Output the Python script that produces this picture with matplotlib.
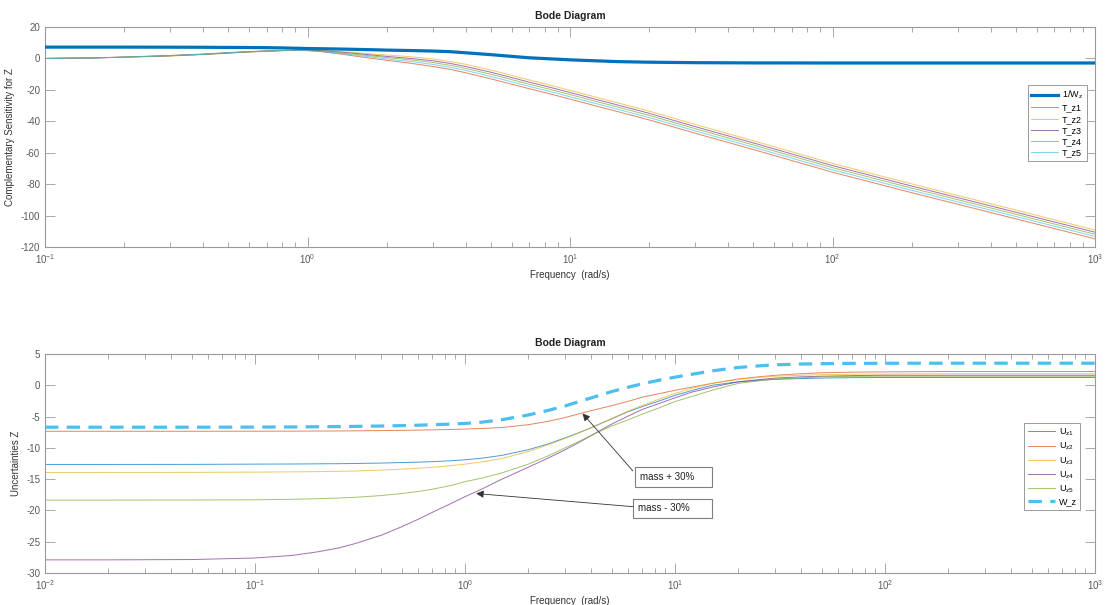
import matplotlib.pyplot as plt
from matplotlib.patches import Rectangle

plt.rcParams['font.family'] = ['Liberation Sans', 'DejaVu Sans']
plt.rcParams['mathtext.fontset'] = 'custom'
plt.rcParams['mathtext.rm'] = 'Liberation Sans'
plt.rcParams['mathtext.it'] = 'Liberation Sans:italic'
plt.rcParams['axes.unicode_minus'] = False

# Complementary sensitivity for Z (dB) vs frequency (rad/s)
w_top = [0.1, 0.15, 0.2, 0.3, 0.4, 0.5, 0.6, 0.7, 0.8, 0.9, 1.0,
         1.1, 1.2, 1.35, 1.5, 1.75, 2.0, 2.5, 3.0, 3.5, 4.0, 5.0, 6.0, 7.0, 8.5,
         10, 15, 20, 30, 50, 100, 200, 500, 1000]
inv_wz = [7.2, 7.2, 7.2, 7.15, 7.1, 7.0, 6.95, 6.85, 6.7, 6.5, 6.3,
          6.2, 6.1, 5.95, 5.8, 5.55, 5.3, 5.0, 4.7, 4.3, 3.6, 2.4, 1.3, 0.4, -0.3,
          -0.9, -2.0, -2.4, -2.7, -2.85, -2.9, -2.9, -2.9, -2.9]
t_z1 = [0.0, 0.3, 0.9, 1.9, 2.8, 3.7, 4.4, 4.8, 5.1, 5.15, 4.95,
        4.5, 3.7, 2.7, 1.6, 0.1, -1.2, -3.2, -5.1, -7.0, -9.1, -13.0, -16.4, -19.3, -22.8,
        -25.9, -33.6, -39.1, -47.6, -58.0, -72.4, -85.4, -102.1, -114.8]
t_z2 = [0.0, 0.3, 0.7, 1.5, 2.4, 3.3, 4.0, 4.5, 4.9, 5.1, 5.1,
        5.0, 4.9, 4.3, 3.8, 2.9, 2.2, 1.0, -0.3, -2.0, -3.7, -7.4, -10.8, -13.7, -17.2,
        -20.3, -28.0, -33.5, -42.0, -52.4, -66.8, -79.8, -96.5, -109.2]
t_z3 = [0.0, 0.3, 0.8, 1.7, 2.6, 3.5, 4.2, 4.65, 5.0, 5.15, 5.05,
        4.9, 4.6, 3.9, 3.3, 2.2, 1.3, -0.1, -1.5, -3.2, -5.1, -8.8, -12.2, -15.1, -18.6,
        -21.7, -29.4, -34.9, -43.4, -53.8, -68.2, -81.2, -97.9, -110.6]
t_z4 = [0.0, 0.3, 0.8, 1.7, 2.6, 3.5, 4.2, 4.65, 5.0, 5.15, 5.05,
        4.8, 4.3, 3.5, 2.7, 1.6, 0.6, -1.0, -2.6, -4.4, -6.3, -10.1, -13.5, -16.4, -19.9,
        -23.0, -30.7, -36.2, -44.7, -55.1, -69.5, -82.5, -99.2, -111.9]
t_z5 = [0.0, 0.3, 0.8, 1.8, 2.7, 3.6, 4.3, 4.7, 5.0, 5.15, 5.05,
        4.6, 4.0, 3.1, 2.2, 0.9, -0.3, -2.1, -3.8, -5.7, -7.6, -11.5, -14.9, -17.8, -21.3,
        -24.4, -32.1, -37.6, -46.1, -56.5, -70.9, -83.9, -100.6, -113.3]

# Uncertainties Z (dB) vs frequency (rad/s)
w_bot = [0.01, 0.02, 0.05, 0.1, 0.15, 0.2, 0.25, 0.3, 0.4, 0.5, 0.6, 0.7, 0.85,
         1.0, 1.2, 1.5, 2, 2.5, 3, 3.5, 4, 5, 6, 7, 8.5,
         10, 12, 15, 20, 25, 30, 40, 50, 70, 100, 200, 1000]
u_z1 = [-12.65, -12.65, -12.64, -12.6, -12.58, -12.55, -12.53, -12.5, -12.43, -12.35, -12.28, -12.2, -12.07,
        -11.9, -11.65, -11.2, -10.3, -9.35, -8.4, -7.55, -6.75, -5.35, -4.2, -3.4, -2.45,
        -1.6, -0.85, 0.0, 0.55, 0.8, 0.95, 1.07, 1.15, 1.22, 1.25, 1.25, 1.25]
u_z2 = [-7.35, -7.35, -7.35, -7.34, -7.33, -7.31, -7.3, -7.28, -7.24, -7.2, -7.16, -7.12, -7.06,
        -7.0, -6.9, -6.75, -6.3, -5.75, -5.15, -4.55, -4.05, -3.25, -2.55, -1.9, -1.3,
        -0.8, -0.3, 0.3, 1.0, 1.35, 1.6, 1.85, 2.0, 2.1, 2.15, 2.2, 2.2]
u_z3 = [-13.93, -13.93, -13.92, -13.88, -13.84, -13.8, -13.75, -13.7, -13.56, -13.4, -13.26, -13.1, -12.86,
        -12.6, -12.25, -11.7, -10.6, -9.5, -8.5, -7.6, -6.8, -5.3, -4.1, -3.2, -2.15,
        -1.3, -0.5, 0.3, 0.95, 1.25, 1.45, 1.6, 1.7, 1.77, 1.8, 1.85, 1.85]
u_z4 = [-27.9, -27.9, -27.85, -27.6, -27.2, -26.6, -26.0, -25.3, -23.95, -22.6, -21.4, -20.3, -18.95,
        -17.8, -16.6, -15.0, -13.1, -11.6, -10.3, -9.1, -8.0, -6.2, -4.9, -3.85, -2.85,
        -2.0, -1.1, -0.3, 0.55, 0.9, 1.15, 1.35, 1.45, 1.55, 1.6, 1.6, 1.6]
u_z5 = [-18.35, -18.35, -18.33, -18.3, -18.22, -18.12, -18.02, -17.9, -17.62, -17.3, -16.97, -16.6, -16.05,
        -15.4, -14.85, -14.0, -12.6, -11.25, -10.0, -8.95, -8.0, -6.5, -5.5, -4.6, -3.55,
        -2.6, -1.8, -0.8, 0.3, 0.7, 1.0, 1.2, 1.35, 1.42, 1.45, 1.45, 1.45]
w_z = [-6.7, -6.7, -6.7, -6.68, -6.66, -6.63, -6.6, -6.57, -6.51, -6.45, -6.38, -6.3, -6.21,
       -6.1, -5.9, -5.5, -4.75, -4.0, -3.3, -2.6, -2.0, -1.0, -0.3, 0.25, 0.85,
       1.3, 1.75, 2.3, 2.85, 3.1, 3.27, 3.4, 3.45, 3.5, 3.52, 3.53, 3.53]

# MATLAB default line colours
c_blue = '#0072BD'
c_orange = '#D95319'
c_yellow = '#EDB120'
c_purple = '#7E2F8E'
c_green = '#77AC30'
c_cyan = '#4DBEEE'

axis_gray = '#9a9a9a'
text_gray = '#5a5a5a'
thin = dict(lw=0.7, alpha=0.7)


def style_axes(ax, xlim, ylim, yticks, ylabel):
    ax.set_xscale('log')
    ax.set_xlim(*xlim)
    ax.set_ylim(*ylim)
    ax.set_yticks(yticks)
    ax.tick_params(which='both', direction='in', top=True, right=True,
                   colors=axis_gray, labelcolor=text_gray, labelsize=7, width=0.6)
    ax.tick_params(which='major', length=7)
    ax.tick_params(which='minor', length=3.6)
    for sp in ax.spines.values():
        sp.set_color(axis_gray)
        sp.set_linewidth(0.8)
    ax.set_title('Bode Diagram', fontsize=7.5, fontweight='bold', color='#222222', pad=6)
    ax.set_xlabel('Frequency  (rad/s)', fontsize=7, color='#333333', labelpad=3)
    ax.set_ylabel(ylabel, fontsize=7, color='#333333', labelpad=4)


fig = plt.figure(figsize=(11.05, 6.05), dpi=100)
ax1 = fig.add_axes([45 / 1105, 1 - 247 / 605, 1050 / 1105, 220 / 605])
ax2 = fig.add_axes([45 / 1105, 1 - 573 / 605, 1050 / 1105, 219 / 605])

# top: weight and complementary sensitivities
ax1.plot(w_top, inv_wz, color=c_blue, lw=2.3, label='1/W$_\\mathregular{z}$', zorder=3)
ax1.plot(w_top, t_z1, color=c_orange, label='T_z1', **thin)
ax1.plot(w_top, t_z2, color=c_yellow, label='T_z2', **thin)
ax1.plot(w_top, t_z3, color=c_purple, label='T_z3', **thin)
ax1.plot(w_top, t_z4, color=c_green, label='T_z4', **thin)
ax1.plot(w_top, t_z5, color=c_cyan, label='T_z5', **thin)
style_axes(ax1, (0.1, 1000), (-120, 20), range(-120, 21, 20),
           'Complementary Sensitivity for Z')
leg1 = ax1.legend(loc='upper right', bbox_to_anchor=(0.992, 0.736), borderaxespad=0,
                  fontsize=6.5, handlelength=3.0, labelspacing=0.25, fancybox=False,
                  framealpha=1, edgecolor=axis_gray, borderpad=0.4, handletextpad=0.4)
leg1.get_frame().set_linewidth(0.7)

# bottom: multiplicative uncertainties and their bound
ax2.plot(w_bot, u_z1, color=c_blue, label='U$_\\mathregular{z1}$', **thin)
ax2.plot(w_bot, u_z2, color=c_orange, label='U$_\\mathregular{z2}$', **thin)
ax2.plot(w_bot, u_z3, color=c_yellow, label='U$_\\mathregular{z3}$', **thin)
ax2.plot(w_bot, u_z4, color=c_purple, label='U$_\\mathregular{z4}$', **thin)
ax2.plot(w_bot, u_z5, color=c_green, label='U$_\\mathregular{z5}$', **thin)
ax2.plot(w_bot, w_z, color=c_cyan, lw=2.3, dashes=(4.2, 2.6), label='W_z', zorder=3)
style_axes(ax2, (0.01, 1000), (-30, 5), range(-30, 6, 5), 'Uncertainties Z')
leg2 = ax2.legend(loc='upper right', bbox_to_anchor=(0.986, 0.685), borderaxespad=0,
                  fontsize=6.5, handlelength=3.0, labelspacing=0.3, fancybox=False,
                  framealpha=1, edgecolor=axis_gray, borderpad=0.4, handletextpad=0.4)
leg2.get_frame().set_linewidth(0.7)

# text boxes with arrows pointing at the +/-30 % mass cases
notes = [('mass + 30%', (6.45, 15.0), (-16.27, -13.09), (6.3, -13.68), (3.63, -4.5)),
         ('mass - 30%', (6.31, 15.0), (-21.2, -18.18), (6.3, -19.4), (1.13, -17.3))]
for label, (x0, x1), (y0, y1), tail, tip in notes:
    ax2.add_patch(Rectangle((x0, y0), x1 - x0, y1 - y0, facecolor='white',
                            edgecolor='#7f7f7f', lw=0.8, zorder=4))
    ax2.text(x0 * 1.055, (y0 + y1) / 2, label, fontsize=7, color='#222222',
             ha='left', va='center', zorder=5)
    ax2.annotate('', xy=tip, xytext=tail,
                 arrowprops=dict(arrowstyle='-|>', color='#333333', lw=0.6,
                                 mutation_scale=11, shrinkA=0, shrinkB=0), zorder=5)

fig.savefig('out.png', dpi=100)
